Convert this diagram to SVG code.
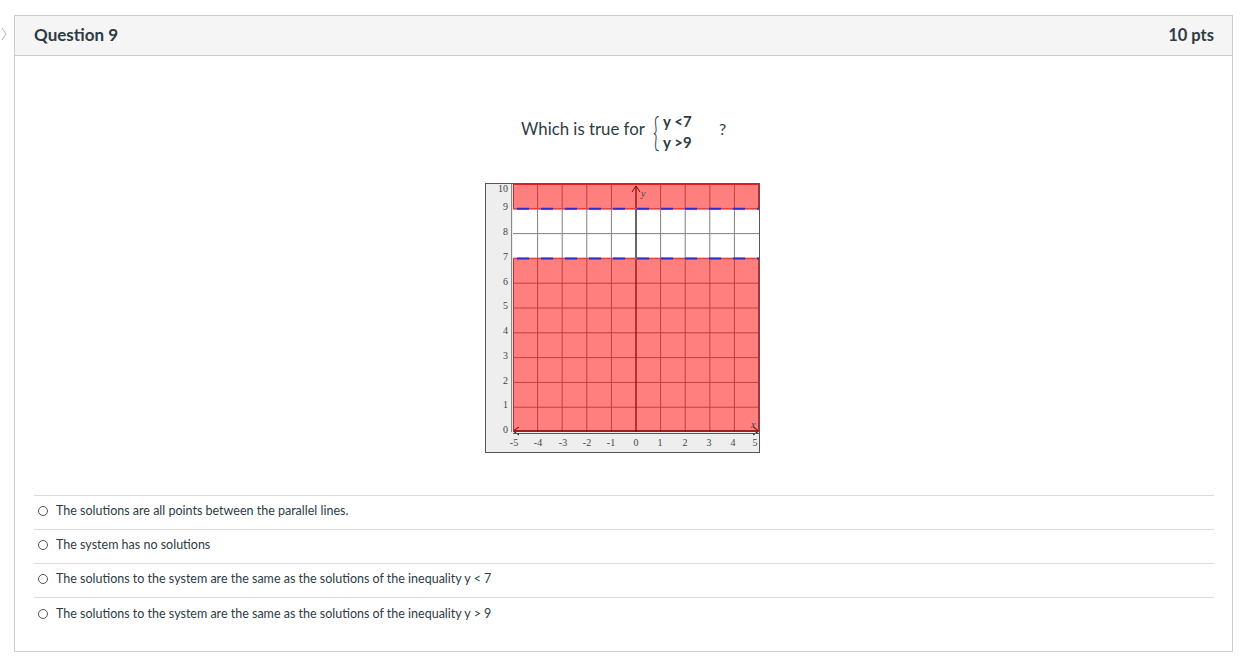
<svg xmlns="http://www.w3.org/2000/svg" width="1245" height="664" viewBox="0 0 1245 664">
<style>
.ui{font-family:Lato,"Liberation Sans",sans-serif;fill:#2d3b45}
.opt{font-family:Lato,"Liberation Sans",sans-serif;font-size:12.5px;fill:#2d3b45}
.tk{font-family:"Liberation Serif",serif;font-size:10px;fill:#444}
.div{stroke:#dcdcdc;stroke-width:1}
.grid{stroke:#808080;stroke-width:1}
.radio{fill:#fff;stroke:#555;stroke-width:1}
</style>
<rect width="1245" height="664" fill="#fff"/>
<path d="M2 28 L6 34 L2 40" fill="none" stroke="#b0b8c0" stroke-width="1"/>
<g id="card">
<rect x="14.5" y="15.5" width="1218" height="636" fill="#fff" stroke="#c7cdd1"/>
<rect x="15" y="16" width="1217" height="39" fill="#f5f5f5"/>
<line x1="14.5" y1="55.5" x2="1232.5" y2="55.5" stroke="#c7cdd1"/>
<text class="ui" x="34" y="41" font-size="17" font-weight="bold">Question 9</text>
<text class="ui" x="1214" y="41" font-size="16.5" font-weight="bold" text-anchor="end">10 pts</text>
</g>
<g id="question">
<text class="ui" x="521" y="135" font-size="16.8">Which is true for</text>
<text class="ui" transform="translate(653 146) scale(0.55 1)" font-size="40" font-weight="300">{</text>
<text class="ui" x="663" y="127" font-size="15" font-weight="bold">y &lt;7</text>
<text class="ui" x="663" y="148" font-size="15" font-weight="bold">y &gt;9</text>
<text class="ui" x="719" y="135" font-size="16">?</text>
</g>
<g id="graph">
<rect x="485.5" y="183.5" width="274" height="269" fill="#eeeeee" stroke="#555"/>
<line x1="511.5" y1="184" x2="511.5" y2="432" stroke="#888"/>
<rect x="513" y="184" width="246" height="248" fill="#fff"/>
<g class="grid">
<line x1="537.6" y1="184" x2="537.6" y2="432"/><line x1="562.2" y1="184" x2="562.2" y2="432"/>
<line x1="586.8" y1="184" x2="586.8" y2="432"/><line x1="611.4" y1="184" x2="611.4" y2="432"/>
<line x1="660.6" y1="184" x2="660.6" y2="432"/><line x1="685.2" y1="184" x2="685.2" y2="432"/>
<line x1="709.8" y1="184" x2="709.8" y2="432"/><line x1="734.4" y1="184" x2="734.4" y2="432"/>
<line x1="513" y1="208.8" x2="759" y2="208.8"/><line x1="513" y1="233.6" x2="759" y2="233.6"/>
<line x1="513" y1="258.4" x2="759" y2="258.4"/><line x1="513" y1="283.2" x2="759" y2="283.2"/>
<line x1="513" y1="308" x2="759" y2="308"/><line x1="513" y1="332.8" x2="759" y2="332.8"/>
<line x1="513" y1="357.6" x2="759" y2="357.6"/><line x1="513" y1="382.4" x2="759" y2="382.4"/>
<line x1="513" y1="407.2" x2="759" y2="407.2"/>
</g>
<line x1="636" y1="186" x2="636" y2="432" stroke="#000" stroke-width="1.2"/>
<line x1="513" y1="431" x2="759" y2="431" stroke="#000" stroke-width="1.5"/>
<path d="M632 192 L636 186 L640 192" fill="none" stroke="#000" stroke-width="1"/>
<path d="M753 427 L759 431 L753 435" fill="none" stroke="#000" stroke-width="1"/>
<path d="M519 427 L513 431 L519 435" fill="none" stroke="#000" stroke-width="1"/>
<rect x="513" y="184" width="246" height="24.8" fill="#ff0000" fill-opacity="0.5"/>
<rect x="513" y="258.4" width="246" height="173.6" fill="#ff0000" fill-opacity="0.5"/>
<line x1="513" y1="184.5" x2="759" y2="184.5" stroke="#e02020" stroke-width="1"/>
<line x1="513.5" y1="184" x2="513.5" y2="209" stroke="#e02020"/>
<line x1="758.5" y1="184" x2="758.5" y2="209" stroke="#e02020"/>
<line x1="513.5" y1="258" x2="513.5" y2="432" stroke="#e02020"/>
<line x1="758.5" y1="258" x2="758.5" y2="432" stroke="#e02020"/>
<line x1="513" y1="208.8" x2="759" y2="208.8" stroke="#e04040" stroke-width="1.5"/>
<line x1="513" y1="258.4" x2="759" y2="258.4" stroke="#e04040" stroke-width="1.5"/>
<line x1="513" y1="208.8" x2="759" y2="208.8" stroke="#3030d0" stroke-width="2" stroke-dasharray="12 12" stroke-dashoffset="-4"/>
<line x1="513" y1="258.4" x2="759" y2="258.4" stroke="#3030d0" stroke-width="2" stroke-dasharray="12 12" stroke-dashoffset="-4"/>
<text class="tk" x="641" y="197" font-style="italic" fill="#800000">y</text>
<text class="tk" x="751" y="428" font-style="italic">x</text>
<g class="tk" text-anchor="end">
<text x="508" y="192">10</text><text x="508" y="210">9</text><text x="508" y="235">8</text>
<text x="508" y="260">7</text><text x="508" y="285">6</text><text x="508" y="309">5</text>
<text x="508" y="334">4</text><text x="508" y="359">3</text><text x="508" y="384">2</text>
<text x="508" y="408">1</text><text x="508" y="433">0</text>
</g>
<rect x="513" y="433" width="246" height="1" fill="#555"/>
<g class="tk" text-anchor="middle">
<text x="514" y="446">-5</text><text x="538" y="446">-4</text><text x="563" y="446">-3</text>
<text x="587" y="446">-2</text><text x="611" y="446">-1</text><text x="636" y="446">0</text>
<text x="660" y="446">1</text><text x="685" y="446">2</text><text x="709" y="446">3</text>
<text x="733" y="446">4</text><text x="755" y="446">5</text>
</g>
</g>
<g id="options">
<line class="div" x1="34" y1="495.5" x2="1214" y2="495.5"/>
<line class="div" x1="34" y1="529.5" x2="1214" y2="529.5"/>
<line class="div" x1="34" y1="563.5" x2="1214" y2="563.5"/>
<line class="div" x1="34" y1="597.5" x2="1214" y2="597.5"/>
<circle class="radio" cx="43" cy="511" r="4.5"/>
<circle class="radio" cx="43" cy="545" r="4.5"/>
<circle class="radio" cx="43" cy="579" r="4.5"/>
<circle class="radio" cx="43" cy="614" r="4.5"/>
<text class="opt" x="56" y="515">The solutions are all points between the parallel lines.</text>
<text class="opt" x="56" y="549">The system has no solutions</text>
<text class="opt" x="56" y="583">The solutions to the system are the same as the solutions of the inequality y &lt; 7</text>
<text class="opt" x="56" y="618">The solutions to the system are the same as the solutions of the inequality y &gt; 9</text>
</g>
</svg>
